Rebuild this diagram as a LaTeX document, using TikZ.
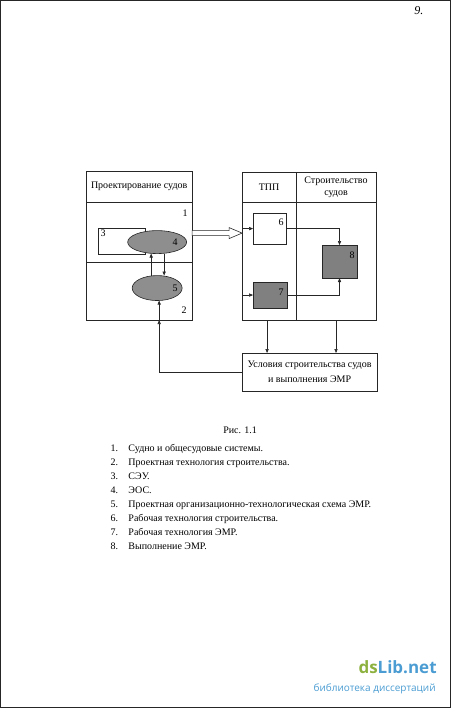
\documentclass[tikz,border=0pt]{standalone}
\usepackage{fontspec}
\setmainfont{Liberation Serif}
\newfontfamily\wmfont{Open Sans}
\usetikzlibrary{arrows.meta,shapes.geometric,calc}
\definecolor{dsgreen}{HTML}{8DB13F}
\definecolor{dsblue}{HTML}{4A9CD2}
\definecolor{fillgr}{HTML}{8E8E8E}
\begin{document}
\begin{tikzpicture}[x=1pt,y=-1pt,
  font=\fontsize{10}{12}\selectfont,
  every path/.style={line width=0.6pt, draw=black!85},
  cell/.style={draw, rectangle, inner sep=0pt, outer sep=0pt},
  ellgr/.style={draw, ellipse, fill=fillgr, inner sep=0pt, outer sep=0pt},
  boxgr/.style={cell, fill=fillgr!90!black},
  lbl/.style={inner sep=0pt, font=\fontsize{10}{12}\selectfont},
  arr/.style={-{Triangle[length=4pt,width=3.2pt]}},
  listtxt/.style={anchor=base west, inner sep=0pt},
]
\useasboundingbox (0,0) rectangle (450,708);

% page number
\node[lbl, font=\fontsize{12}{14}\selectfont\itshape] (pg) at (419,10) {9.};

% left block
\node[cell, minimum width=106pt, minimum height=31pt] (hdrL) at (139,186.5) {Проектирование судов};
\node[cell, minimum width=106pt, minimum height=60pt] (sec1) at (139,232) {};
\node[cell, minimum width=106pt, minimum height=58pt] (sec2) at (139,291) {};
\node[lbl] (l1) at (185,213) {1};
\node[lbl] (l2) at (184,310) {2};
\node[cell, minimum width=47pt, minimum height=26pt] (b3) at (121.5,241) {};
\node[lbl] (l3) at (103,233) {3};
\node[ellgr, minimum width=59pt, minimum height=23pt] (e4) at (157,242) {};
\node[lbl] (l4) at (175,242) {4};
\node[ellgr, minimum width=50pt, minimum height=25pt] (e5) at (157,288) {};
\node[lbl] (l5) at (175,288) {5};
\draw[arr] ([xshift=-6pt]e5.north) -- ([xshift=-6pt]e4.south);
\draw[arr] ([xshift=7pt]e4.south) -- ([xshift=7pt]e5.north);

% right block
\node[cell, minimum width=54pt, minimum height=30pt] (hdrT) at (269,187) {ТПП};
\node[cell, minimum width=80pt, minimum height=30pt, align=center, font=\fontsize{10}{12.5}\selectfont] (hdrS) at (336,187) {Строительство\\судов};
\node[cell, minimum width=54pt, minimum height=118pt] (colT) at (269,261) {};
\node[cell, minimum width=80pt, minimum height=118pt] (colS) at (336,261) {};
\node[cell, fill=white, minimum width=33pt, minimum height=31pt] (b6) at (269.5,228.5) {};
\node[lbl] (l6) at (281,222) {6};
\node[boxgr, minimum width=34pt, minimum height=26pt] (b7) at (270,295) {};
\node[lbl] (l7) at (281,292) {7};
\node[boxgr, minimum width=35pt, minimum height=33pt] (b8) at (339.5,261.5) {};
\node[lbl] (l8) at (352,255) {8};
\draw[arr] (colT.west |- b6.west) -- (b6.west);
\draw[arr] (colT.west |- b7.west) -- (b7.west);
\draw[arr] (b6.east) -| (b8.north);
\draw[arr] (b7.east) -| (b8.south);

% hollow arrow between blocks
\draw[fill=white] (192,230.5) -- (229,230.5) -- (229,227.5) -- (242,233) -- (229,238.5) -- (229,235.5) -- (192,235.5) -- cycle;

% conditions box
\node[cell, minimum width=135pt, minimum height=38pt, align=center, font=\fontsize{10}{15}\selectfont] (usl) at (309.5,372) {Условия строительства судов\\и выполнения ЭМР};
\draw[arr] ([xshift=-2pt]colT.south) -- ([xshift=-2pt]colT.south |- usl.north);
\draw[arr] (colS.south) -- (colS.south |- usl.north);
\coordinate (fb) at (159,372);
\draw[arr] (usl.west) -- (fb) -- (fb |- sec2.south);
\draw[arr] (fb |- sec2.south) -- (fb |- e5.south);

% caption and legend
\node[lbl] (cap) at (240,430) {Рис. 1.1};
\foreach \n/\t [count=\i from 0] in {1/Судно и общесудовые системы.,
  2/Проектная технология строительства.,
  3/СЭУ.,
  4/ЭОС.,
  5/Проектная организационно-технологическая схема ЭМР.,
  6/Рабочая технология строительства.,
  7/Рабочая технология ЭМР.,
  8/Выполнение ЭМР.}{
  \node[listtxt] (n\n) at (110,{451.5+14*\i}) {\n.};
  \node[listtxt] (t\n) at (128,{451.5+14*\i}) {\t};
}

% watermark
\node[anchor=base east, inner sep=0pt, font=\wmfont\bfseries\fontsize{17}{20}\selectfont] (wm1) at (437,674) {\textcolor{dsgreen}{ds}\textcolor{dsblue}{Lib.net}};
\node[anchor=base east, inner sep=0pt, font=\wmfont\fontsize{10}{12}\selectfont, text=dsblue] (wm2) at (436,692) {библиотека диссертаций};
\end{tikzpicture}
\end{document}
